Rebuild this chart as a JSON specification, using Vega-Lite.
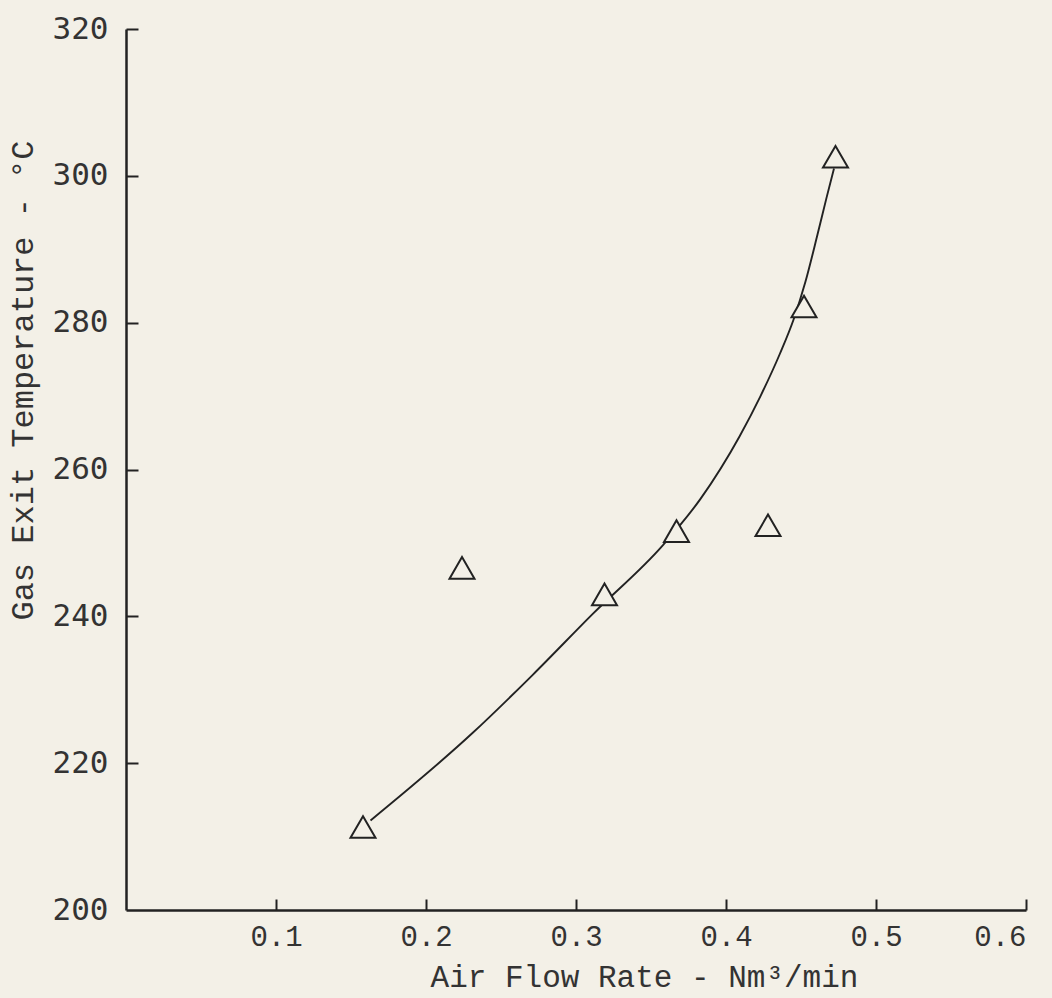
{
  "$schema": "https://vega.github.io/schema/vega-lite/v6.json",
  "width": 900,
  "height": 881,
  "autosize": {"type": "none"},
  "padding": {"left": 126, "top": 29, "right": 26, "bottom": 88},
  "background": "#f3f0e7",
  "config": {"view": {"stroke": null}, "font": "Liberation Mono"},
  "datasets": {
    "points": [
      {"flow": 0.158, "temp": 211.3},
      {"flow": 0.224, "temp": 246.6},
      {"flow": 0.319, "temp": 243.0},
      {"flow": 0.367, "temp": 251.6},
      {"flow": 0.428, "temp": 252.4},
      {"flow": 0.452, "temp": 282.2},
      {"flow": 0.473, "temp": 302.6}
    ],
    "curve": [
      {"flow": 0.163, "temp": 212.2},
      {"flow": 0.231, "temp": 224.1},
      {"flow": 0.271, "temp": 232.0},
      {"flow": 0.311, "temp": 240.3},
      {"flow": 0.358, "temp": 249.7},
      {"flow": 0.383, "temp": 256.0},
      {"flow": 0.409, "temp": 264.5},
      {"flow": 0.423, "temp": 270.0},
      {"flow": 0.436, "temp": 275.8},
      {"flow": 0.445, "temp": 280.4},
      {"flow": 0.453, "temp": 285.6},
      {"flow": 0.461, "temp": 292.0},
      {"flow": 0.467, "temp": 297.0},
      {"flow": 0.472, "temp": 301.0}
    ]
  },
  "resolve": {"axis": {"x": "independent", "y": "independent"}},
  "layer": [
    {
      "data": {"name": "curve"},
      "mark": {"type": "line", "interpolate": "monotone", "color": "#222", "strokeWidth": 1.9},
      "encoding": {
        "x": {
          "field": "flow",
          "type": "quantitative",
          "scale": {"domain": [0, 0.6], "nice": false, "zero": false},
          "axis": {
            "values": [0.1, 0.2, 0.3, 0.4, 0.5, 0.6],
            "format": ".1f",
            "grid": false,
            "ticks": false,
            "domainColor": "#222",
            "domainWidth": 2.5,
            "labelFont": "Liberation Mono",
            "labelFontSize": 29,
            "labelColor": "#333",
            "labelPadding": 12,
            "title": "Air Flow Rate - Nm³/min",
            "titleFont": "Liberation Mono",
            "titleFontSize": 31,
            "titleFontWeight": "normal",
            "titleColor": "#333",
            "titleX": 518,
            "titleY": 67,
            "titleBaseline": "middle",
            "titleAlign": "center"
          }
        },
        "y": {
          "field": "temp",
          "type": "quantitative",
          "scale": {"domain": [200, 320], "nice": false, "zero": false},
          "axis": {
            "values": [200, 220, 240, 260, 280, 300, 320],
            "grid": false,
            "ticks": false,
            "domainColor": "#222",
            "domainWidth": 2.5,
            "labelFont": "DejaVu Sans Mono",
            "labelFontSize": 31,
            "labelColor": "#333",
            "labelPadding": 18,
            "title": "Gas Exit Temperature - °C",
            "titleFont": "Liberation Mono",
            "titleFontSize": 32,
            "titleFontWeight": "normal",
            "titleColor": "#333",
            "titleX": -104,
            "titleY": 351,
            "titleBaseline": "middle",
            "titleAlign": "center",
            "titleAngle": -90
          }
        }
      }
    },
    {
      "data": {"name": "points"},
      "mark": {"type": "point", "shape": "triangle-up", "size": 625, "filled": true, "color": "#f3f0e7", "fillOpacity": 1, "opacity": 1, "stroke": "#222", "strokeWidth": 2},
      "encoding": {
        "x": {
          "field": "flow",
          "type": "quantitative",
          "scale": {"domain": [0, 0.6], "nice": false, "zero": false},
          "axis": {
            "orient": "top",
            "offset": -881,
            "values": [0.1, 0.2, 0.3, 0.4, 0.5, 0.6],
            "grid": false,
            "domain": false,
            "labels": false,
            "title": null,
            "ticks": true,
            "tickSize": 11,
            "tickWidth": 2,
            "tickColor": "#222"
          }
        },
        "y": {
          "field": "temp",
          "type": "quantitative",
          "scale": {"domain": [200, 320], "nice": false, "zero": false},
          "axis": {
            "orient": "right",
            "offset": -900,
            "values": [220, 240, 260, 280, 300, 320],
            "grid": false,
            "domain": false,
            "labels": false,
            "title": null,
            "ticks": true,
            "tickSize": 12,
            "tickWidth": 2,
            "tickColor": "#222"
          }
        }
      }
    }
  ]
}
